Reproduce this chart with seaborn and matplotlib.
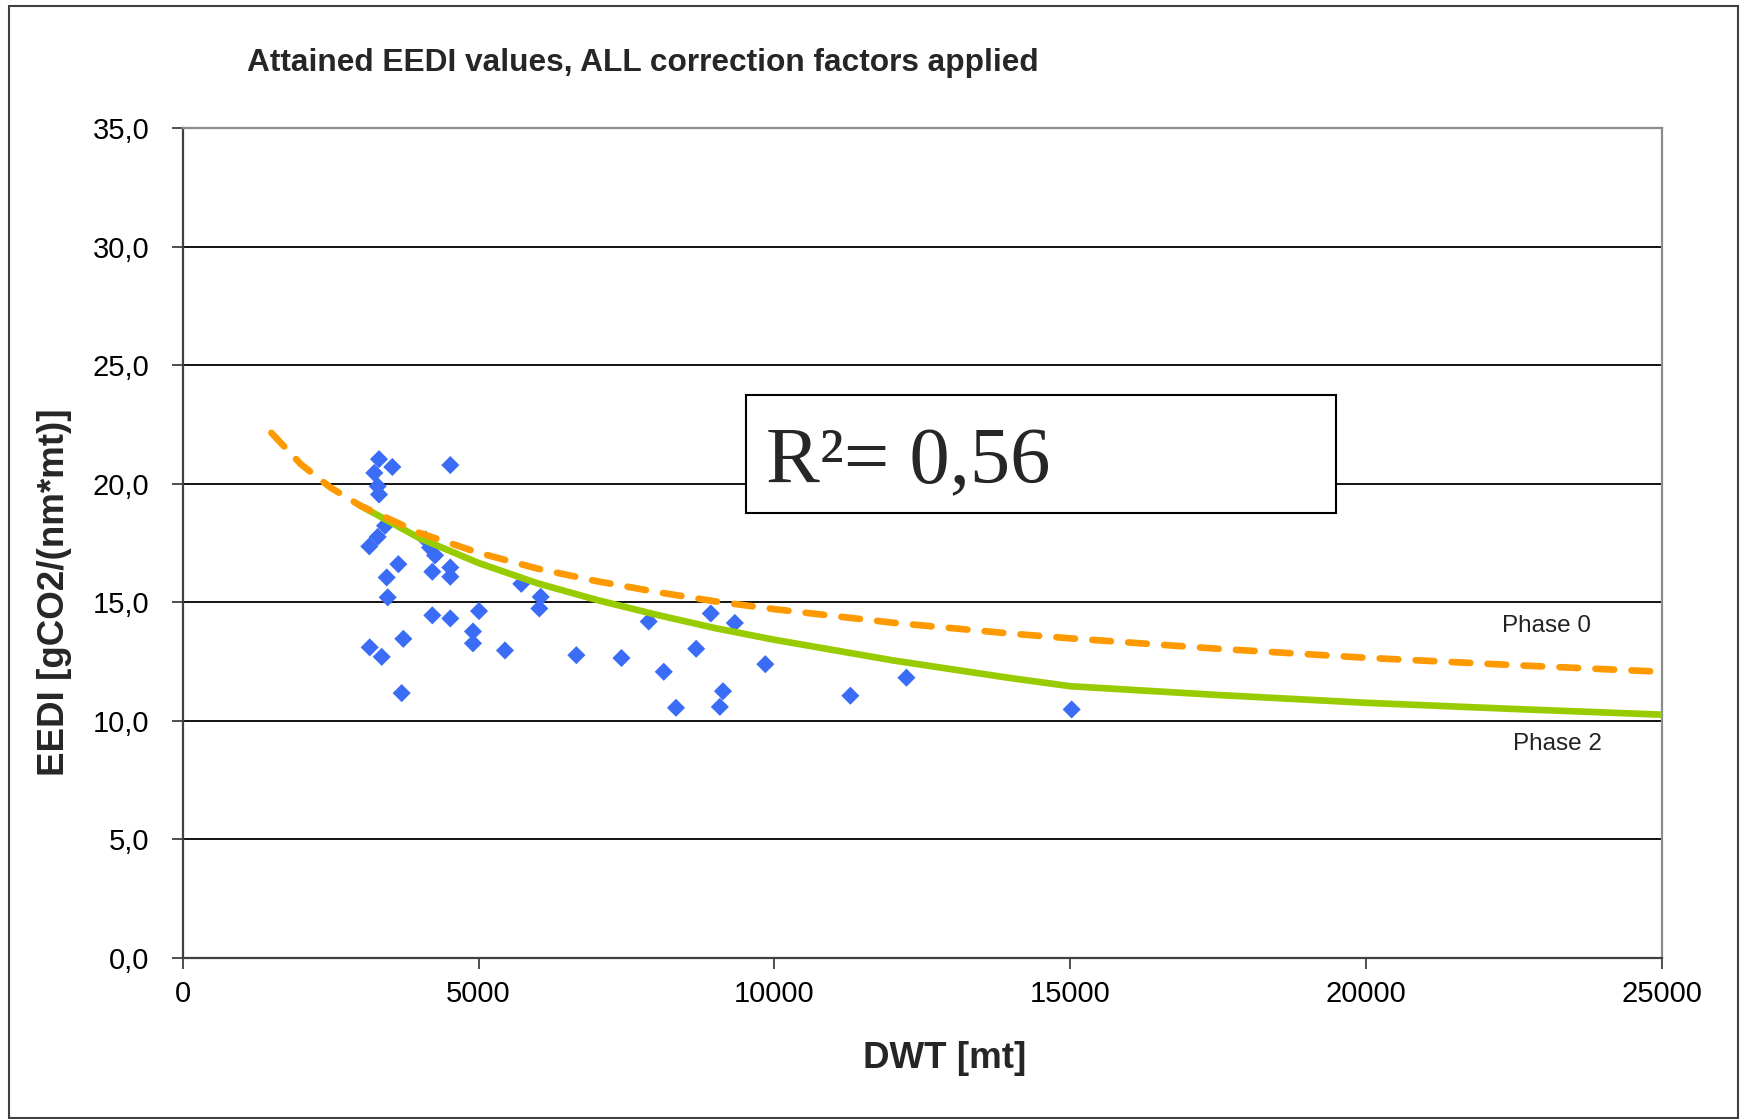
import matplotlib
matplotlib.use("Agg")
import matplotlib.pyplot as plt
import seaborn as sns
import pandas as pd
from matplotlib.patches import Rectangle

# Attained EEDI values
dwt = [3155, 3239, 3318, 3543, 3296, 3318, 4523, 3420, 3296, 3645,
       3448, 3465, 4107, 4180, 4265, 4219, 4523, 4523, 4219, 4523,
       5008, 4906, 4906, 5447, 3161, 3364, 3729, 3701, 5722, 6050,
       6027, 6653, 7415, 7875, 8130, 8336, 8677, 8924, 9331, 9130,
       9077, 9846, 11282, 12230, 15022]
eedi = [17.35, 20.45, 21.03, 20.70, 19.89, 19.54, 20.78, 18.22, 17.75, 16.60,
        16.04, 15.20, 17.64, 17.30, 16.97, 16.28, 16.46, 16.07, 14.44, 14.31,
        14.62, 13.76, 13.26, 12.96, 13.09, 12.69, 13.45, 11.16, 15.77, 15.22,
        14.73, 12.76, 12.64, 14.18, 12.06, 10.54, 13.03, 14.52, 14.12, 11.24,
        10.58, 12.38, 11.05, 11.81, 10.47]

# Reference lines
phase0_dwt = [1500, 2000, 2500, 3000, 4000, 5000, 6000, 7000, 8000, 9000,
              10000, 12000, 14000, 15000, 17500, 20000, 22500, 25000]
phase0_eedi = [22.14, 20.81, 19.83, 19.07, 17.92, 17.08, 16.41, 15.88, 15.43, 15.03,
               14.70, 14.13, 13.67, 13.47, 13.03, 12.65, 12.34, 12.06]
phase2_dwt = [3000, 4000, 5000, 6000, 7000, 8000, 9000, 10000, 12000, 14000,
              15000, 17500, 20000, 22500, 25000]
phase2_eedi = [19.07, 17.70, 16.65, 15.79, 15.09, 14.47, 13.90, 13.41, 12.54, 11.79,
               11.45, 11.08, 10.75, 10.49, 10.25]

y_ticks = [0, 5, 10, 15, 20, 25, 30, 35]
y_tick_labels = ["0,0", "5,0", "10,0", "15,0", "20,0", "25,0", "30,0", "35,0"]
x_ticks = [0, 5000, 10000, 15000, 20000, 25000]

W, H = 1746, 1119

sns.set_theme(style="white")
plt.rcParams['font.family'] = ['Liberation Sans', 'DejaVu Sans']

fig = plt.figure(figsize=(W / 100, H / 100), dpi=100)
ax = fig.add_axes([0.1046, 0.1442, 0.952 - 0.1046, 0.8856 - 0.1442])

# horizontal gridlines
for v in y_ticks[1:-1]:
    ax.axhline(v, color="black", lw=1.3, zorder=1)

pts = pd.DataFrame({"DWT": dwt, "EEDI": eedi})
sns.scatterplot(data=pts, x="DWT", y="EEDI", marker="D", s=85, color="#3a6cf6",
                edgecolor="none", ax=ax, zorder=3)

p0 = pd.DataFrame({"DWT": phase0_dwt, "EEDI": phase0_eedi})
p2 = pd.DataFrame({"DWT": phase2_dwt, "EEDI": phase2_eedi})
sns.lineplot(data=p2, x="DWT", y="EEDI", color="#99cc00", lw=4.8, ax=ax, zorder=4)
sns.lineplot(data=p0, x="DWT", y="EEDI", color="#ff9900", lw=4.8, ax=ax, zorder=5,
             linestyle=(0, (2.8, 2.6)), dash_capstyle="round")

ax.set_xlim(0, 25000)
ax.set_ylim(0, 35)
ax.set_yticks(y_ticks)
ax.set_yticklabels(y_tick_labels)
ax.set_xticks(x_ticks)
ax.tick_params(axis="both", labelsize=21, length=8, width=1.3, color="#404040",
               direction="out", left=True, bottom=True, labelcolor="black")
ax.tick_params(axis="y", pad=16)
ax.tick_params(axis="x", pad=8)

for side in ["left", "bottom"]:
    ax.spines[side].set_color("#404040")
    ax.spines[side].set_linewidth(1.6)
for side in ["top", "right"]:
    ax.spines[side].set_color("#8c8c8c")
    ax.spines[side].set_linewidth(1.6)

ax.set_xlabel("DWT [mt]", fontsize=26.5, fontweight="bold")
ax.set_ylabel("EEDI [gCO2/(nm*mt)]", fontsize=26.5, fontweight="bold")
ax.xaxis.set_label_coords(0.515, -0.1)
ax.yaxis.set_label_coords(-0.0745, 0.44)

fig.text(247 / W, 1 - 71 / H, "Attained EEDI values, ALL correction factors applied",
         fontsize=22.8, fontweight="bold", va="baseline", ha="left")

fig.text(1547 / W, 1 - 632 / H, "Phase 0", fontsize=17.5, ha="center",
         va="baseline", color="#222222")
fig.text(1557 / W, 1 - 750 / H, "Phase 2", fontsize=17.5, ha="center",
         va="baseline", color="#222222")

# R² box
fig.patches.append(Rectangle((746 / W, 1 - 513 / H), 590 / W, 118 / H,
                             transform=fig.transFigure, fill=True, facecolor="white",
                             edgecolor="black", lw=1.5, zorder=6))
fig.text(766 / W, 1 - 483 / H, "R²= 0,56", family=["Liberation Serif", "DejaVu Serif"],
         fontsize=58, ha="left", va="baseline", zorder=7)

# outer chart border
fig.patches.append(Rectangle((9 / W, 1 / H), 1729 / W, 1112 / H,
                             transform=fig.transFigure, fill=False,
                             edgecolor="#404040", lw=1.5))

fig.savefig("out.png", dpi=100)
